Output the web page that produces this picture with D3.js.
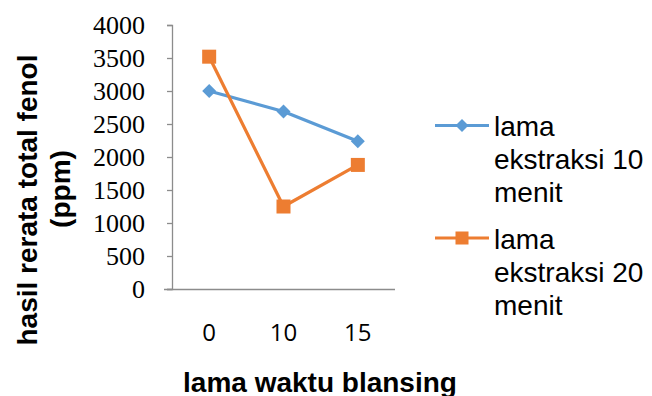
<!DOCTYPE html>
<html>
<head>
<meta charset="utf-8">
<script src="https://cdn.jsdelivr.net/npm/d3@7"></script>
<style>
  html, body { margin: 0; padding: 0; background: #fff; }
  svg { display: block; }
</style>
</head>
<body>
<svg id="chart" width="652" height="396"></svg>
<script>
// Blanching time categories (minutes)
const categories = ["0", "10", "15"];
// Total phenol (ppm) for each extraction time
const ekstraksi10 = [3000, 2690, 2240];
const ekstraksi20 = [3520, 1250, 1880];
const yTicks = [0, 500, 1000, 1500, 2000, 2500, 3000, 3500, 4000];
const seriesNames = [["lama", "ekstraksi 10", "menit"], ["lama", "ekstraksi 20", "menit"]];
const colors = ["#5B9BD5", "#ED7D31"];
const xTitle = "lama waktu blansing";
const yTitle = ["hasil rerata total fenol", "(ppm)"];

const svg = d3.select("#chart");
const axisColor = "#8c8c8c";

const x = d3.scaleBand().domain(categories).range([172, 395]);
const y = d3.scaleLinear().domain([0, 4000]).range([289, 25]);
const cx = d => x(d) + x.bandwidth() / 2;

// Y axis
const yAxis = svg.append("g").attr("transform", "translate(172,0)")
  .call(d3.axisLeft(y).tickValues(yTicks).tickSize(5).tickPadding(22).tickFormat(d3.format("d")));
yAxis.attr("font-family", null).attr("font-size", null);
yAxis.select(".domain").attr("stroke", axisColor).attr("stroke-width", 1.3);
yAxis.selectAll(".tick line").attr("stroke", axisColor).attr("stroke-width", 1.3);
yAxis.selectAll(".tick text")
  .style("font-family", "'Liberation Serif', 'Times New Roman', serif")
  .style("font-size", "26px").attr("fill", "#000").attr("dy", "0.33em");

// X axis
const xAxis = svg.append("g").attr("transform", "translate(0,289)")
  .call(d3.axisBottom(x).tickSize(0).tickPadding(0));
xAxis.attr("font-family", null).attr("font-size", null);
xAxis.select(".domain").attr("stroke", axisColor).attr("stroke-width", 1.3)
  .attr("d", "M164,0.5H395");
xAxis.selectAll(".tick text")
  .style("font-family", "'Open Sans', sans-serif")
  .style("font-size", "24px").attr("fill", "#000").attr("dy", 0).attr("y", 52);

// Lines and markers
const line = d3.line().x((d, i) => cx(categories[i])).y(d => y(d));
const allSeries = [ekstraksi10, ekstraksi20];

function marker(g, i, px, py, s) {
  if (i === 0) {
    const h = s / 2;
    g.append("path")
      .attr("d", `M${px},${py - h}L${px + h},${py}L${px},${py + h}L${px - h},${py}Z`)
      .attr("fill", colors[0]);
  } else {
    g.append("rect").attr("x", px - s / 2).attr("y", py - s / 2)
      .attr("width", s).attr("height", s).attr("fill", colors[1]);
  }
}

allSeries.forEach((vals, i) => {
  svg.append("path").datum(vals).attr("d", line)
    .attr("fill", "none").attr("stroke", colors[i]).attr("stroke-width", 3.2)
    .attr("stroke-linejoin", "round");
});
allSeries.forEach((vals, i) => {
  const g = svg.append("g");
  vals.forEach((v, j) => marker(g, i, cx(categories[j]), y(v), 14));
});

// Legend
const legendY = [125.5, 238];
seriesNames.forEach((lines, i) => {
  const g = svg.append("g");
  g.append("line").attr("x1", 435).attr("x2", 489).attr("y1", legendY[i]).attr("y2", legendY[i])
    .attr("stroke", colors[i]).attr("stroke-width", 3.2);
  marker(g, i, 462, legendY[i], 13);
  const t = g.append("text").attr("font-family", "'Liberation Sans', Arial, sans-serif")
    .attr("font-size", 28).attr("fill", "#000");
  lines.forEach((s, k) => {
    t.append("tspan").attr("x", 494).attr("y", legendY[i] + 10.5 + k * 33).text(s);
  });
});

// Axis titles
svg.append("text").attr("x", 320).attr("y", 392).attr("text-anchor", "middle")
  .attr("font-family", "'Liberation Sans', Arial, sans-serif").attr("font-weight", "bold")
  .attr("font-size", 28).attr("fill", "#000").text(xTitle);

const yt = svg.append("text").attr("transform", "translate(0,200) rotate(-90)")
  .attr("text-anchor", "middle")
  .attr("font-family", "'Liberation Sans', Arial, sans-serif").attr("font-weight", "bold")
  .attr("font-size", 28).attr("fill", "#000");
yt.append("tspan").attr("x", 0).attr("y", 37).text(yTitle[0]);
yt.append("tspan").attr("x", 11).attr("y", 70).text(yTitle[1]);
</script>
</body>
</html>
